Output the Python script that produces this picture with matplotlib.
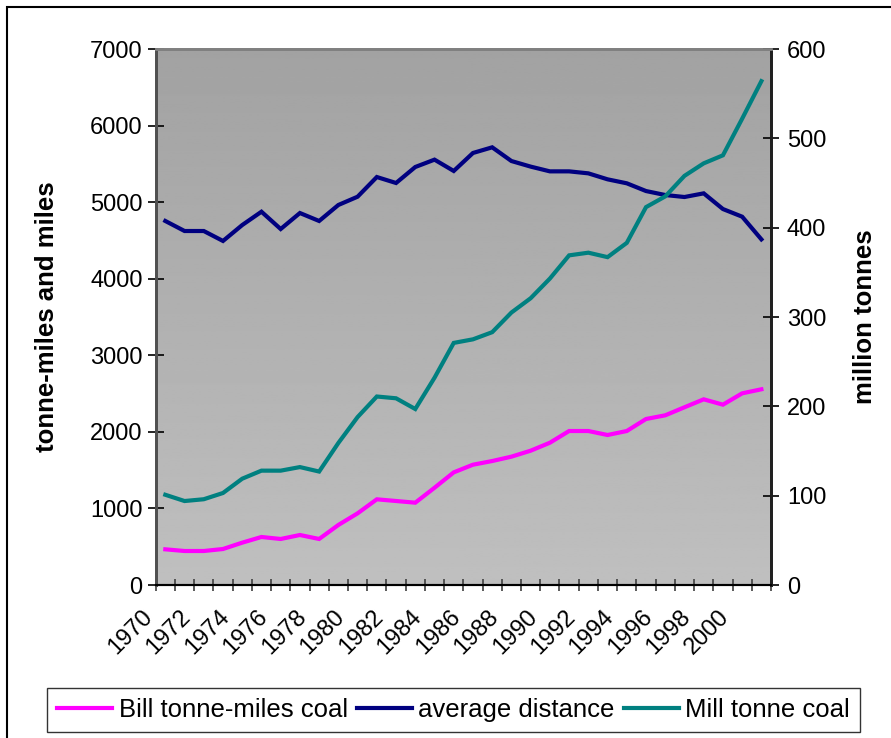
import numpy as np
import matplotlib
matplotlib.use("Agg")
import matplotlib.pyplot as plt
from matplotlib.lines import Line2D
from matplotlib.patches import Rectangle
from matplotlib.transforms import ScaledTranslation

plt.rcParams['font.family'] = ['Liberation Sans', 'DejaVu Sans']

years = list(range(1970, 2002))
bill_tonne_miles = [466, 444, 444, 470, 553, 627, 601, 653, 601, 784, 936, 1119,
                    1097, 1075, 1270, 1471, 1571, 1619, 1676, 1754, 1858, 2011,
                    2011, 1959, 2011, 2168, 2216, 2321, 2425, 2355, 2503, 2556]
average_distance = [4754, 4623, 4623, 4493, 4701, 4875, 4649, 4858, 4754, 4963,
                    5071, 5328, 5250, 5459, 5555, 5407, 5642, 5716, 5537, 5464,
                    5402, 5402, 5376, 5298, 5246, 5145, 5093, 5067, 5115, 4910,
                    4810, 4514]
mill_tonne_coal = [101, 94, 96, 103, 119, 128, 128, 132, 127, 159, 188, 211, 209,
                   197, 232, 271, 275, 283, 305, 321, 343, 369, 372, 367, 383, 423,
                   435, 458, 472, 481, 522, 564]

W, H = 891, 738
fig = plt.figure(figsize=(W / 100, H / 100), dpi=100)
L, R, T, B = 155.7, 771, 49, 585
ax = fig.add_axes([L / W, 1 - B / H, (R - L) / W, (B - T) / H])
ax2 = ax.twinx()

x = np.arange(len(years))
n = len(years)

# grey gradient plot area
grad = np.linspace(0.635, 0.75, 256).reshape(-1, 1)
ax.imshow(grad, cmap='gray', vmin=0, vmax=1, aspect='auto',
          extent=[-0.5, n - 0.5, 0, 7000], origin='upper', zorder=0)

ax.plot(x, bill_tonne_miles, color='#FF00FF', lw=3, zorder=3, solid_joinstyle='miter')
ax.plot(x, average_distance, color='#000080', lw=3, zorder=3, solid_joinstyle='miter')
ax2.plot(x, mill_tonne_coal, color='#008080', lw=3, zorder=3, solid_joinstyle='miter')

ax.set_xlim(-0.5, n - 0.5)
ax.set_ylim(0, 7000)
ax2.set_ylim(0, 600)
ax.set_yticks(range(0, 7001, 1000))
ax2.set_yticks(range(0, 601, 100))

# year labels every second category, tick marks between categories
label_pos = x[::2]
ax.set_xticks(label_pos)
ax.set_xticklabels([str(y) for y in years[::2]], rotation=45, ha='right',
                   va='top', rotation_mode='anchor', fontsize=17)
ax.set_xticks(np.arange(-0.5, n, 1.0), minor=True)
ax.tick_params(axis='x', which='major', length=0, pad=15)
ax.tick_params(axis='x', which='minor', direction='inout', length=9, width=1.2,
               color='#404040')

ax.tick_params(axis='y', direction='inout', length=11, width=1.2, labelsize=17, pad=4)
ax2.tick_params(axis='y', direction='inout', length=11, width=1.2, labelsize=17, pad=6)

# nudge the rotated year labels to the left
shift = ScaledTranslation(-0.24, 0, fig.dpi_scale_trans)
for tick in ax.xaxis.get_major_ticks():
    tick.label1.set_transform(tick.label1.get_transform() + shift)

for a in (ax, ax2):
    a.spines['top'].set_color('#808080')
    a.spines['top'].set_linewidth(2)
    a.spines['left'].set_color('#505050')
    a.spines['left'].set_linewidth(2)
    a.spines['right'].set_color('#202020')
    a.spines['right'].set_linewidth(2)
    a.spines['bottom'].set_color('black')
    a.spines['bottom'].set_linewidth(1.5)

ax.set_ylabel('tonne-miles and miles', fontsize=18.5, fontweight='bold', labelpad=22)
ax2.set_ylabel('million tonnes', fontsize=18.5, fontweight='bold', labelpad=19,
               rotation=90)

handles = [Line2D([], [], color='#FF00FF', lw=3),
           Line2D([], [], color='#000080', lw=3),
           Line2D([], [], color='#008080', lw=3)]
labels = ['Bill tonne-miles coal', 'average distance', 'Mill tonne coal']
leg = fig.legend(handles, labels, loc='center', ncol=3,
                 bbox_to_anchor=((43 + 864) / 2 / W, 1 - 710 / H),
                 fontsize=18.5, frameon=True, fancybox=False, edgecolor='black',
                 handlelength=2.15, handletextpad=0.25, columnspacing=0.35,
                 borderpad=0.4, borderaxespad=0)
leg.get_frame().set_linewidth(1.0)

# outer chart border
fig.add_artist(Rectangle((7 / W, -0.2), 1.2, 1 - 7 / H + 0.2, transform=fig.transFigure,
                         fill=False, edgecolor='black', lw=1.5))

fig.savefig('out.png', dpi=100)
